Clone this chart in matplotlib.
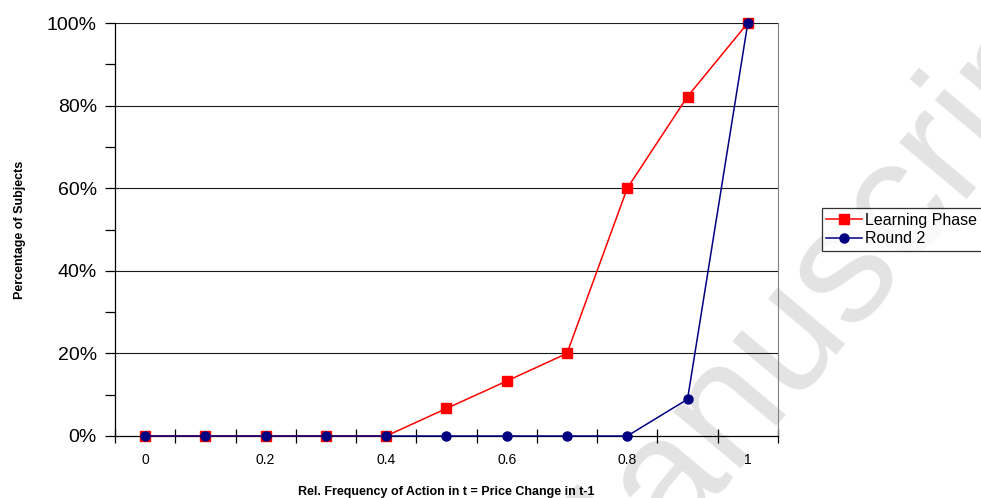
import numpy as np
import matplotlib
matplotlib.use("Agg")
import matplotlib.pyplot as plt
from matplotlib.ticker import FixedLocator, PercentFormatter

plt.rcParams['font.family'] = ['Liberation Sans', 'DejaVu Sans']

categories = ["0", "0.1", "0.2", "0.3", "0.4", "0.5", "0.6", "0.7", "0.8", "0.9", "1"]
learning_phase = [0, 0, 0, 0, 0, 6.67, 13.3, 20, 60, 82.2, 100]
round_2 = [0, 0, 0, 0, 0, 0, 0, 0, 0, 8.9, 100]

fig = plt.figure(figsize=(9.81, 4.98), dpi=100)
ax = fig.add_axes([0.1172, 0.1245, 0.6758, 0.8293])
ax.set_facecolor("none")

x = np.arange(len(categories))
ax.plot(x, learning_phase, color="#ff0000", lw=1.1, marker="s", ms=6.5,
        mfc="#ff0000", mec="#ff0000", label="Learning Phase", clip_on=False, zorder=3)
ax.plot(x, round_2, color="#000080", lw=1.1, marker="o", ms=6.5,
        mfc="#000080", mec="#000080", label="Round 2", clip_on=False, zorder=4)

ax.set_xlim(-0.5, len(categories) - 0.5)
ax.set_ylim(0, 100)

# category axis: ticks between categories, labels on every second one
ax.xaxis.set_major_locator(FixedLocator(np.arange(-0.5, len(categories), 1.0)))
ax.set_xticklabels([])
ax.xaxis.set_minor_locator(FixedLocator(x[::2]))
ax.set_xticklabels([categories[i] for i in x[::2]], minor=True)
ax.tick_params(axis="x", which="major", direction="inout", length=10, width=0.9)
ax.tick_params(axis="x", which="minor", length=0, labelsize=10, pad=12)

ax.yaxis.set_major_locator(FixedLocator(np.arange(0, 101, 20)))
ax.yaxis.set_minor_locator(FixedLocator(np.arange(10, 100, 20)))
ax.yaxis.set_major_formatter(PercentFormatter(decimals=0))
ax.tick_params(axis="y", which="major", direction="out", length=7, width=0.9, labelsize=14, pad=6)
ax.tick_params(axis="y", which="minor", direction="out", length=7, width=0.9)

for v in np.arange(20, 101, 20):
    ax.axhline(v, color="#1a1a1a", lw=0.8, zorder=1)

ax.spines["top"].set_visible(False)
ax.spines["right"].set_color("#808080")
ax.spines["left"].set_linewidth(0.9)
ax.spines["bottom"].set_linewidth(0.9)

ax.set_xlabel("Rel. Frequency of Action in t = Price Change in t-1", fontsize=9,
              fontweight="bold", labelpad=14)
ax.set_ylabel("Percentage of Subjects", fontsize=9, fontweight="bold", labelpad=15)

leg = ax.legend(loc="center left", bbox_to_anchor=(1.066, 0.5), frameon=True,
                fancybox=False, edgecolor="black", fontsize=11.5, borderpad=0.3,
                labelspacing=0.25, handlelength=2.2, handletextpad=0.2,
                borderaxespad=0)
leg.get_frame().set_linewidth(0.9)

# watermark, mostly outside the picture like in the original
fig.text(0.592, -0.293, "Manuscript", fontsize=120, color="#e3e3e3",
         rotation=50, ha="left", va="baseline", rotation_mode="anchor", zorder=-1)

fig.savefig("out.png", dpi=100)
